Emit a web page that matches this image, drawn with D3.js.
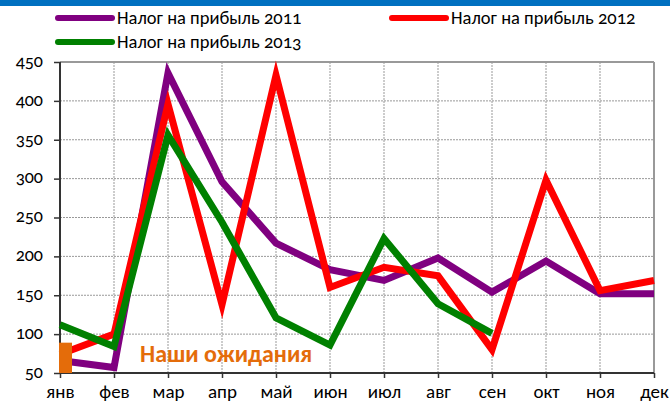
<!DOCTYPE html>
<html>
<head>
<meta charset="utf-8">
<script src="https://cdn.jsdelivr.net/npm/d3@7"></script>
<style>
  body { margin: 0; background: #fff; }
  svg { display: block; font-family: Carlito, Calibri, "Open Sans", sans-serif; }
  .onum { font-variant-numeric: oldstyle-nums; font-feature-settings: "onum" 1; }
</style>
</head>
<body>
<svg id="chart" width="670" height="406"></svg>
<script>
const months = ['янв', 'фев', 'мар', 'апр', 'май', 'июн', 'июл', 'авг', 'сен', 'окт', 'ноя', 'дек'];
const yTicks = [50, 100, 150, 200, 250, 300, 350, 400, 450];

const tax2011 = [66, 57, 436, 296, 217, 183, 169, 198, 154, 194, 152, 152];
const tax2012 = [74, 100, 396, 138, 433, 160, 186, 175, 80, 298, 156, 169];
const tax2013 = [112, 84, 356, 244, 121, 86, 223, 139, 101];

const seriesNames = ['Налог на прибыль 2011', 'Налог на прибыль 2012', 'Налог на прибыль 2013'];
const seriesColors = ['#800080', '#ff0000', '#008000'];
const seriesValues = [tax2011, tax2012, tax2013];

const expectLabel = 'Наши ожидания';
const expectRange = [50, 89];

const svg = d3.select('#chart');
const W = 670, H = 406;
const m = { left: 60, right: 16, top: 62, bottom: 33 };

svg.append('rect').attr('x', 0).attr('y', 0).attr('width', W).attr('height', 6).attr('fill', '#0070c0');

const x = d3.scalePoint().domain(months).range([m.left, W - m.right]);
const y = d3.scaleLinear().domain([50, 450]).range([H - m.bottom, m.top]);

// grid
const grid = svg.append('g').attr('class', 'grid');
grid.selectAll('line.h')
  .data(yTicks.slice(1, -1))
  .join('line')
  .attr('x1', m.left).attr('x2', W - m.right)
  .attr('y1', d => y(d)).attr('y2', d => y(d))
  .attr('stroke', '#999').attr('stroke-width', 1).attr('stroke-dasharray', '2,1');
grid.selectAll('line.v')
  .data(months.slice(1, -1))
  .join('line')
  .attr('x1', d => x(d)).attr('x2', d => x(d))
  .attr('y1', m.top).attr('y2', H - m.bottom)
  .attr('stroke', '#999').attr('stroke-width', 1).attr('stroke-dasharray', '2,1');

// frame top/right
svg.append('line').attr('x1', m.left).attr('x2', W - m.right).attr('y1', m.top).attr('y2', m.top)
  .attr('stroke', '#999').attr('stroke-width', 2);
svg.append('line').attr('x1', W - m.right).attr('x2', W - m.right).attr('y1', m.top).attr('y2', H - m.bottom)
  .attr('stroke', '#999').attr('stroke-width', 2);

// axes
const yAxis = svg.append('g')
  .attr('transform', `translate(${m.left},0)`)
  .call(d3.axisLeft(y).tickValues(yTicks).tickSize(6).tickPadding(11));
const xAxis = svg.append('g')
  .attr('transform', `translate(0,${H - m.bottom})`)
  .call(d3.axisBottom(x).tickSize(5).tickPadding(7));
[yAxis, xAxis].forEach(a => {
  a.select('.domain').attr('stroke', '#333').attr('stroke-width', 2);
  a.selectAll('.tick line').attr('stroke', '#333').attr('stroke-width', 1.5);
  a.selectAll('.tick text').attr('fill', '#000')
    .style('font-family', 'Carlito, Calibri, "Open Sans", sans-serif');
});
yAxis.selectAll('.tick text').attr('class', 'onum').style('font-size', '18px').attr('dy', '0.24em');
xAxis.selectAll('.tick text').style('font-size', '19px');
yAxis.select('.domain').attr('d', `M0,${m.top}V${H - m.bottom}`);
xAxis.select('.domain').attr('d', `M${m.left},0H${W - m.right}`);

// lines
const line = d3.line().x((d, i) => x(months[i])).y(d => y(d));
seriesValues.forEach((vals, i) => {
  svg.append('path')
    .datum(vals)
    .attr('d', line)
    .attr('fill', 'none')
    .attr('stroke', seriesColors[i])
    .attr('stroke-width', 7)
    .attr('stroke-linejoin', 'miter')
    .attr('stroke-miterlimit', 10);
});

// expectation marker
svg.append('rect')
  .attr('x', x(months[0]) - 1)
  .attr('width', 13)
  .attr('y', y(expectRange[1]))
  .attr('height', y(expectRange[0]) - y(expectRange[1]))
  .attr('fill', '#e46c0a');
svg.append('text')
  .attr('x', 140).attr('y', 362)
  .attr('fill', '#e46c0a')
  .style('font-size', '24px').style('font-weight', 'bold')
  .text(expectLabel);

// legend
const legendPos = [[58, 18], [392, 18], [58, 42]];
seriesNames.forEach((name, i) => {
  const [lx, ly] = legendPos[i];
  svg.append('line')
    .attr('x1', lx).attr('x2', lx + 54).attr('y1', ly).attr('y2', ly)
    .attr('stroke', seriesColors[i]).attr('stroke-width', 6).attr('stroke-linecap', 'round');
  svg.append('text')
    .attr('class', 'onum')
    .attr('x', lx + 59).attr('y', ly + 6)
    .attr('fill', '#000')
    .style('font-size', '18.5px')
    .text(name);
});
</script>
</body>
</html>
